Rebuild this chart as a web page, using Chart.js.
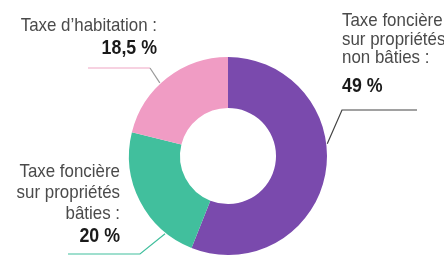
<!DOCTYPE html>
<html>
<head>
<meta charset="utf-8">
<script src="https://cdn.jsdelivr.net/npm/chart.js@4/dist/chart.umd.min.js"></script>
<style>
  html, body { margin: 0; padding: 0; background: #fff; }
  #wrap { width: 444px; height: 258px; position: relative; }
</style>
</head>
<body>
<div id="wrap"><canvas id="pie"></canvas></div>
<script>
// data
const LABELS = ["Taxe foncière sur propriétés non bâties", "Taxe foncière sur propriétés bâties", "Taxe d’habitation"];
const VALUES = [49, 20, 18.5];
const VALUE_TEXT = ["49 %", "20 %", "18,5 %"];
const LABEL_LINES = [
  ["Taxe foncière", "sur propriétés", "non bâties :"],
  ["Taxe foncière", "sur propriétés", "bâties :"],
  ["Taxe d’habitation :"],
];

const COLORS = [
  "#7a4aad", // violet
  "#41bf9d", // vert
  "#f09cc4", // rose
];
const LINE_COLORS = ["#444", "#41bf9d", "#f0a6c4"];

const FONT = "'Liberation Sans', Arial, sans-serif";
const SQUEEZE = 0.89; // condensed look

// where the labels sit (text anchor, align, line height, elbow of the leader)
const LABEL_POS = [
  { x: 342, y: 21, align: "left", lh: 18.5, valueGap: 28, size: 19, line: [417, 110, 342, 110], angle: 83 },
  { x: 120, y: 172, align: "right", lh: 21, valueGap: 22, size: 19, line: [68, 254, 140, 254], angle: 219 },
  { x: 157, y: 26, align: "right", lh: 18, valueGap: 22, size: 19, line: [88, 68, 150, 68], angle: 317 },
];

function squeezedText(ctx, t, x, y) {
  ctx.save();
  ctx.translate(x, y);
  ctx.scale(SQUEEZE, 1);
  ctx.fillText(t, 0, 0);
  ctx.restore();
}

const calloutPlugin = {
  id: "callouts",
  afterDraw(chart) {
    const ctx = chart.ctx;
    const arcs = chart.getDatasetMeta(0).data;
    ctx.save();
    LABEL_POS.forEach((p, i) => {
      const arc = arcs[i];
      const a = (p.angle - 90) * Math.PI / 180;
      const ex = arc.x + Math.cos(a) * (arc.outerRadius + 1);
      const ey = arc.y + Math.sin(a) * (arc.outerRadius + 1);

      // leader line
      ctx.lineWidth = 1.2;
      ctx.strokeStyle = LINE_COLORS[i];
      ctx.beginPath();
      ctx.moveTo(p.line[0], p.line[1]);
      ctx.lineTo(p.line[2], p.line[3]);
      if (i == 2) {
        ctx.stroke();
        ctx.strokeStyle = "#999";
        ctx.beginPath();
        ctx.moveTo(p.line[2], p.line[3]);
      }
      ctx.lineTo(ex, ey);
      ctx.stroke();

      // text
      ctx.textAlign = p.align;
      ctx.textBaseline = "middle";
      ctx.fillStyle = "#4a4a4a";
      ctx.font = p.size + "px " + FONT;
      let y = p.y;
      LABEL_LINES[i].forEach((t, k) => {
        squeezedText(ctx, t, p.x, y);
        if (k < LABEL_LINES[i].length - 1) y += p.lh;
      });
      ctx.fillStyle = "#1a1a1a";
      ctx.font = "bold " + (p.size + 1) + "px " + FONT;
      squeezedText(ctx, VALUE_TEXT[i], p.x, y + p.valueGap);
    });
    ctx.restore();
  },
};

let pieData = {
  labels: LABELS,
  datasets: [
    {
      data: VALUES,
      backgroundColor: COLORS,
      borderWidth: 0,
    },
  ],
};

new Chart(document.getElementById("pie").getContext("2d"), {
  type: "doughnut",
  data: pieData,
  options: {
    responsive: true,
    maintainAspectRatio: false,
    animation: false,
    cutout: "48.5%",
    layout: { padding: { left: 129, right: 117, top: 57, bottom: 3 } },
    plugins: {
      legend: { display: false },
      tooltip: { enabled: false },
    },
  },
  plugins: [calloutPlugin],
});
</script>
</body>
</html>
